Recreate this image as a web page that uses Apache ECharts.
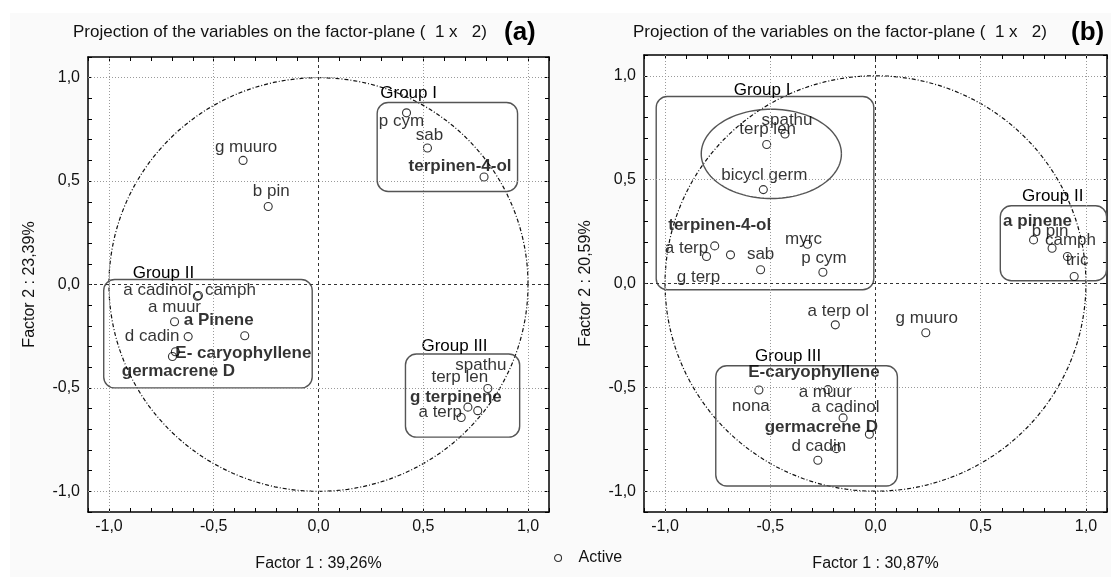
<!DOCTYPE html>
<html><head><meta charset="utf-8">
<script src="https://cdn.jsdelivr.net/npm/echarts@6/dist/echarts.min.js"></script>
<style>html,body{margin:0;padding:0;background:#fff}#c{width:1111px;height:577px}</style>
</head><body><div id="c"></div>
<script>
// ---------------- data ----------------
const axisMajorTicks = [-1, -0.5, 0, 0.5, 1];

// panel (a)
const namesA = ['p cym','sab','terpinen-4-ol','g muuro','b pin','a cadinol','camph','a muur','a Pinene','d cadin','E- caryophyllene','germacrene D','spathu','terp len','g terpinene','a terp'];
const xA = [0.42, 0.52, 0.79, -0.36, -0.24, -0.578, -0.573, -0.687, -0.352, -0.622, -0.683, -0.697, 0.808, 0.76, 0.713, 0.681];
const yA = [0.83, 0.66, 0.52, 0.60, 0.377, -0.057, -0.053, -0.18, -0.248, -0.252, -0.325, -0.348, -0.503, -0.61, -0.593, -0.643];
const groupNamesA = ['Group I', 'Group II', 'Group III'];
const groupBoxA = [[0.28, 0.88, 0.95, 0.45], [-1.025, 0.024, -0.03, -0.50], [0.415, -0.336, 0.96, -0.738]];
const groupTitleAtA = [[0.43, 0.926], [-0.74, 0.052], [0.649, -0.30]];

// panel (b)
const namesB = ['spathu','terp len','bicycl germ','terpinen-4-ol','a terp','g terp','sab','myrc','p cym','a terp ol','g muuro','a pinene','b pin','camph','tric','nona','E-caryophyllene','a muur','a cadinol','germacrene D','d cadin'];
const xB = [-0.43, -0.517, -0.533, -0.764, -0.803, -0.689, -0.546, -0.323, -0.25, -0.191, 0.239, 0.751, 0.839, 0.912, 0.944, -0.554, -0.226, -0.154, -0.029, -0.186, -0.274];
const yB = [0.72, 0.669, 0.452, 0.181, 0.13, 0.138, 0.066, 0.189, 0.054, -0.199, -0.237, 0.21, 0.17, 0.13, 0.034, -0.513, -0.511, -0.647, -0.726, -0.795, -0.851];
const groupNamesB = ['Group I', 'Group II', 'Group III'];
const groupBoxB = [[-1.042, 0.90, -0.008, -0.03], [0.593, 0.374, 1.098, 0.013], [-0.759, -0.396, 0.104, -0.975]];
const groupTitleAtB = [[-0.539, 0.93], [0.842, 0.422], [-0.415, -0.352]];
const ellipseB = [[-0.495, 0.624, 0.333, 0.215]]; // centre x, centre y, radius x, radius y

const axisNameXA = 'Factor 1 : 39,26%', axisNameYA = 'Factor 2 : 23,39%';
const axisNameXB = 'Factor 1 : 30,87%', axisNameYB = 'Factor 2 : 20,59%';
const titleText = 'Projection of the variables on the factor-plane (  1 x   2)';

// ---------------- layout / style (pixel offsets of labels) ----------------
const boldA = ['terpinen-4-ol','a Pinene','E- caryophyllene','germacrene D','g terpinene'];
const boldB = ['terpinen-4-ol','a pinene','E-caryophyllene','germacrene D'];
const offA = {'p cym':[-5,8],'sab':[2,-13],'terpinen-4-ol':[-24,-11],'g muuro':[3,-13],'b pin':[3,-15],
  'a cadinol':[-40,-6],'camph':[32,-5],'a muur':[0,-14],'a Pinene':[-26,-15],'d cadin':[-36,0],
  'E- caryophyllene':[68,2],'germacrene D':[6,15],'spathu':[-7,-23],'terp len':[-18,-33],'g terpinene':[-12,-10],'a terp':[-21,-5]};
const offB = {'spathu':[2,-14],'terp len':[1,-15],'bicycl germ':[1,-14],'terpinen-4-ol':[5,-21],'a terp':[-20,-8],
  'g terp':[-32,22],'sab':[0,-15],'myrc':[-4,-5],'p cym':[1,-14],'a terp ol':[3,-14],'g muuro':[1,-14],
  'a pinene':[4,-19],'b pin':[-2,-17],'camph':[3,-16],'tric':[3,-16],'nona':[-8,16],'E-caryophyllene':[-14,-17],
  'a muur':[-18,-26],'a cadinol':[-24,-27],'germacrene D':[-15,-21],'d cadin':[1,-14]};

const FONT = 'Liberation Sans';
const TXT = '#000';

function fmt(v) {
  const t = Math.round(v * 10);
  if (t % 5 !== 0 || Math.abs(t) > 10) return '';
  return (t / 10).toFixed(1).replace('.', ',');
}

function xAx(grid, pos, labels, name) {
  return {type: 'value', gridIndex: grid, position: pos, min: -1.1, max: 1.1, interval: 0.1,
    axisLine: {show: true, onZero: false, lineStyle: {color: '#000', width: 1.5}},
    axisTick: {show: true, inside: true, length: 4, lineStyle: {color: '#000', width: 1}},
    splitLine: {show: false},
    axisLabel: {show: labels, formatter: fmt, margin: 7, color: '#111', fontSize: 16, fontFamily: FONT},
    name: labels ? name : '', nameLocation: 'middle', nameGap: 44,
    nameTextStyle: {color: '#111', fontSize: 16, fontFamily: FONT}};
}
function yAx(grid, pos, labels, name) {
  return {type: 'value', gridIndex: grid, position: pos, min: -1.1, max: 1.1, interval: 0.1,
    axisLine: {show: true, onZero: false, lineStyle: {color: '#000', width: 1.5}},
    axisTick: {show: true, inside: true, length: 4, lineStyle: {color: '#000', width: 1}},
    splitLine: {show: false},
    axisLabel: {show: labels, formatter: fmt, margin: 8, color: '#111', fontSize: 16, fontFamily: FONT},
    name: labels ? name : '', nameLocation: 'middle', nameGap: 50,
    nameTextStyle: {color: '#111', fontSize: 16, fontFamily: FONT}};
}

function gridLines(ax) {
  const faint = {type: [1, 2], color: '#9a9a9a', width: 1};
  const dark = {type: [3, 3], color: '#333', width: 1};
  const d = [];
  axisMajorTicks.forEach(v => {
    const ls = v === 0 ? dark : faint;
    d.push({xAxis: v, lineStyle: ls});
    d.push({yAxis: v, lineStyle: ls});
  });
  return {type: 'scatter', xAxisIndex: ax, yAxisIndex: ax, data: [], silent: true, z: 0,
    markLine: {silent: true, symbol: ['none', 'none'], label: {show: false}, animation: false, data: d}};
}

function unitCircle(ax) {
  return {type: 'custom', xAxisIndex: ax, yAxisIndex: ax, data: [[0, 0, 1]], silent: true, z: 1,
    renderItem(params, api) {
      const cx = api.value(0), cy = api.value(1), r = api.value(2);
      const pts = [];
      for (let a = 0; a <= 360; a += 2) {
        const t = a * Math.PI / 180;
        pts.push(api.coord([cx + r * Math.cos(t), cy + r * Math.sin(t)]));
      }
      return {type: 'polyline', shape: {points: pts},
        style: {fill: 'none', stroke: '#111', lineWidth: 1.2, lineDash: [4, 2, 1, 2]}};
    }};
}

function ellipseSeries(ax, data) {
  return {type: 'custom', xAxisIndex: ax, yAxisIndex: ax, data: data, silent: true, z: 2,
    renderItem(params, api) {
      const cx = api.value(0), cy = api.value(1), rx = api.value(2), ry = api.value(3);
      const pts = [];
      for (let a = 0; a <= 360; a += 3) {
        const t = a * Math.PI / 180;
        pts.push(api.coord([cx + rx * Math.cos(t), cy + ry * Math.sin(t)]));
      }
      return {type: 'polyline', shape: {points: pts}, style: {fill: 'none', stroke: '#555', lineWidth: 1.4}};
    }};
}

function boxSeries(ax, boxes) {
  return {type: 'custom', xAxisIndex: ax, yAxisIndex: ax, data: boxes, silent: true, z: 2,
    renderItem(params, api) {
      const p1 = api.coord([api.value(0), api.value(1)]);
      const p2 = api.coord([api.value(2), api.value(3)]);
      return {type: 'rect', shape: {x: Math.min(p1[0], p2[0]), y: Math.min(p1[1], p2[1]),
        width: Math.abs(p2[0] - p1[0]), height: Math.abs(p2[1] - p1[1]), r: 11},
        style: {fill: 'none', stroke: '#555', lineWidth: 1.4}};
    }};
}

function groupTitles(ax, names, at) {
  return {type: 'custom', xAxisIndex: ax, yAxisIndex: ax, silent: true, z: 3,
    data: names.map((n, i) => [at[i][0], at[i][1], n]),
    renderItem(params, api) {
      const p = api.coord([api.value(0), api.value(1)]);
      return {type: 'text', x: p[0], y: p[1],
        style: {text: names[params.dataIndex], fill: TXT, fontSize: 17, fontFamily: FONT,
          align: 'center', verticalAlign: 'middle'}};
    }};
}

function points(ax, names, xs, ys, offs, bold) {
  return {type: 'scatter', name: 'Active', xAxisIndex: ax, yAxisIndex: ax, z: 4,
    symbol: 'circle', symbolSize: 8,
    itemStyle: {color: 'rgba(0,0,0,0)', borderColor: '#000', borderWidth: 1.1},
    data: names.map((n, i) => ({name: n, value: [xs[i], ys[i]],
      label: {offset: offs[n] || [0, -14], fontWeight: bold.includes(n) ? 'bold' : 'normal'}})),
    label: {show: true, position: 'inside', formatter: p => p.name, color: TXT,
      textBorderWidth: 0, fontSize: 17, fontFamily: FONT}};
}

const chart = echarts.init(document.getElementById('c'));
chart.setOption({
  animation: false,
  backgroundColor: '#fff',
  graphic: [{type: 'rect', left: 10, top: 13, z: -10, silent: true,
    shape: {width: 1101, height: 564}, style: {fill: '#fafafa'}}],
  title: [
    {text: titleText, left: 73, top: 24, padding: 0, textStyle: {fontSize: 17, fontWeight: 'normal', fontFamily: FONT, color: '#111'}},
    {text: '(a)', left: 504, top: 20, padding: 0, textStyle: {fontSize: 26, fontWeight: 'bold', fontFamily: FONT, color: '#000'}},
    {text: titleText, left: 633, top: 24, padding: 0, textStyle: {fontSize: 17, fontWeight: 'normal', fontFamily: FONT, color: '#111'}},
    {text: '(b)', left: 1071, top: 20, padding: 0, textStyle: {fontSize: 26, fontWeight: 'bold', fontFamily: FONT, color: '#000'}}
  ],
  legend: {data: ['Active'], left: 549, top: 545, icon: 'circle', itemWidth: 7, itemHeight: 7,
    itemStyle: {color: 'rgba(0,0,0,0)', borderColor: '#000', borderWidth: 1.1},
    textStyle: {fontSize: 16, fontFamily: FONT, color: '#111', padding: [0, 0, 0, 12]}},
  grid: [
    {left: 88, top: 57, width: 461, height: 461, show: true, backgroundColor: '#fff', borderWidth: 0},
    {left: 644, top: 55, width: 463, height: 461, show: true, backgroundColor: '#fff', borderWidth: 0}
  ],
  xAxis: [xAx(0, 'bottom', true, axisNameXA), xAx(0, 'top', false, ''), xAx(1, 'bottom', true, axisNameXB), xAx(1, 'top', false, '')],
  yAxis: [yAx(0, 'left', true, axisNameYA), yAx(0, 'right', false, ''), yAx(1, 'left', true, axisNameYB), yAx(1, 'right', false, '')],
  series: [
    gridLines(0), gridLines(2),
    unitCircle(0), unitCircle(2),
    boxSeries(0, groupBoxA), boxSeries(2, groupBoxB), ellipseSeries(2, ellipseB),
    groupTitles(0, groupNamesA, groupTitleAtA), groupTitles(2, groupNamesB, groupTitleAtB),
    points(0, namesA, xA, yA, offA, boldA), points(2, namesB, xB, yB, offB, boldB)
  ]
});
</script></body></html>
